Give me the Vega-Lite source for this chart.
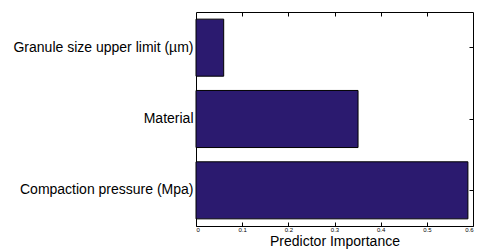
{
  "$schema": "https://vega.github.io/schema/vega-lite/v6.json",
  "autosize": "none",
  "width": 277,
  "height": 214,
  "padding": {"left": 196, "top": 12, "right": 7, "bottom": 26},
  "background": "white",
  "config": {
    "view": {"stroke": "black", "strokeWidth": 1},
    "font": "Liberation Sans"
  },
  "data": {
    "values": [
      {"predictor": "Granule size upper limit (µm)", "importance": 0.06},
      {"predictor": "Material", "importance": 0.351},
      {"predictor": "Compaction pressure (Mpa)", "importance": 0.589}
    ]
  },
  "layer": [
    {
      "mark": {"type": "bar", "color": "#2b1a6f", "stroke": "black", "strokeWidth": 1},
      "encoding": {
        "y": {
          "field": "predictor",
          "type": "nominal",
          "sort": null,
          "scale": {"paddingInner": 0.2, "paddingOuter": 0.1},
          "axis": {"title": null, "labelFontSize": 14, "labelColor": "black", "domain": false, "ticks": false, "labelPadding": 3, "labelLimit": 200}
        },
        "x": {
          "field": "importance",
          "type": "quantitative",
          "scale": {"domain": [0, 0.6], "nice": false},
          "axis": {
            "title": "Predictor Importance",
            "titleFontSize": 14,
            "titleFontWeight": "normal",
            "titleColor": "black",
            "titlePadding": 2,
            "values": [0, 0.1, 0.2, 0.3, 0.4, 0.5, 0.6],
            "format": "~g",
            "labelFontSize": 6,
            "labelColor": "black",
            "labelPadding": 4,
            "tickSize": -4,
            "tickColor": "black",
            "domain": false,
            "grid": false
          }
        }
      }
    },
    {
      "mark": {"type": "bar", "opacity": 0},
      "encoding": {
        "y": {
          "field": "predictor",
          "type": "nominal",
          "sort": null,
          "axis": {"orient": "right", "title": null, "labels": false, "domain": false, "tickSize": -4, "tickColor": "black"}
        },
        "x": {
          "field": "importance",
          "type": "quantitative",
          "axis": {"orient": "top", "title": null, "labels": false, "domain": false, "values": [0.1, 0.2, 0.3, 0.4, 0.5], "tickSize": -4, "tickColor": "black", "grid": false}
        }
      }
    }
  ],
  "resolve": {"axis": {"x": "independent", "y": "independent"}}
}
